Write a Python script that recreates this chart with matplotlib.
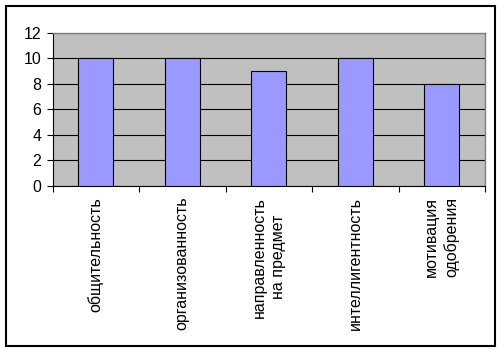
import matplotlib.pyplot as plt
from matplotlib.patches import Rectangle

categories = [
    "общительность",
    "организованность",
    "направленность\nна предмет",
    "интеллигентность",
    "мотивация\nодобрения",
]
values = [10, 10, 9, 10, 8]
yticks = [0, 2, 4, 6, 8, 10, 12]

plt.rcParams['font.family'] = ['Liberation Sans', 'DejaVu Sans']

W, H = 504, 354
fig = plt.figure(figsize=(W / 100, H / 100), dpi=100)

# outer frame
fig.patches.append(Rectangle((6 / W, 1 - 346 / H), (495 - 6) / W, (346 - 6) / H,
                             transform=fig.transFigure, fill=False,
                             edgecolor='black', linewidth=1.5))

ax = fig.add_axes([52.5 / W, 1 - 186 / H, (485 - 52.5) / W, (186 - 32.5) / H])
ax.set_facecolor('#c0c0c0')

x = range(len(categories))
ax.bar(x, values, width=0.4, color='#9999ff', edgecolor='black',
       linewidth=0.8, zorder=3)

ax.set_xlim(-0.5, len(categories) - 0.5)
ax.set_ylim(0, 12)
ax.set_yticks(yticks)
ax.yaxis.grid(True, color='black', linewidth=0.8, zorder=1)
ax.set_axisbelow(True)

for side in ['top', 'right']:
    ax.spines[side].set_color('#808080')
    ax.spines[side].set_linewidth(1)
for side in ['left', 'bottom']:
    ax.spines[side].set_color('black')
    ax.spines[side].set_linewidth(0.8)

ax.tick_params(axis='y', direction='out', length=4, width=0.8,
               labelsize=11.5, pad=4)
ax.set_xticks([i + 0.5 for i in range(-1, len(categories))])
ax.tick_params(axis='x', direction='out', length=4, width=0.8,
               labelbottom=False)

for i, name in enumerate(categories):
    ax.text(i, -0.85, name, rotation=90, ha='center', va='top',
            fontsize=11.5, linespacing=1.35, multialignment='center',
            transform=ax.transData)

fig.savefig('out.png', dpi=100)
